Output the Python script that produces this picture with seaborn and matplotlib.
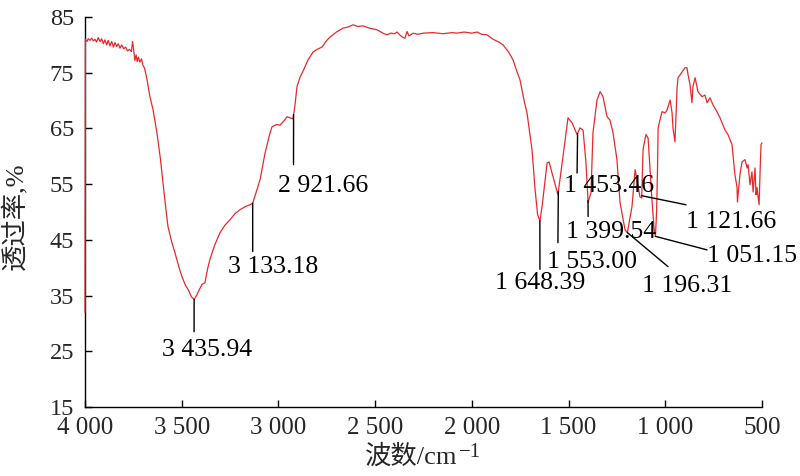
import numpy as np
import pandas as pd
import matplotlib
matplotlib.use('Agg')
import matplotlib.pyplot as plt
import seaborn as sns

# FTIR spectrum
wavenumber = [4000, 3998, 3990, 3983, 3975, 3965, 3957, 3948, 3940, 3932,
              3922, 3914, 3905, 3897, 3888, 3880, 3871, 3862, 3853, 3845,
              3836, 3828, 3819, 3810, 3800, 3790, 3780, 3770, 3760, 3754,
              3748, 3742, 3736, 3730, 3724, 3716, 3708, 3700, 3692, 3680,
              3665, 3648, 3628, 3610, 3597, 3580, 3571, 3553, 3535, 3515,
              3499, 3480, 3467, 3450, 3436, 3425, 3410, 3395, 3380, 3365,
              3354, 3330, 3302, 3275, 3250, 3225, 3199, 3170, 3147, 3133,
              3120, 3095, 3069, 3045, 3033, 3010, 2992, 2970, 2956, 2940,
              2925, 2915, 2904, 2888, 2870, 2847, 2821, 2800, 2775, 2750,
              2733, 2700, 2666, 2640, 2614, 2590, 2563, 2530, 2490, 2460,
              2439, 2420, 2400, 2387, 2370, 2355, 2346, 2335, 2325, 2304,
              2280, 2250, 2201, 2150, 2100, 2077, 2040, 2000, 1973, 1950,
              1922, 1890, 1860, 1839, 1810, 1787, 1770, 1751, 1730, 1715,
              1700, 1689, 1673, 1660, 1648, 1637, 1611, 1601, 1580, 1555,
              1529, 1503, 1482, 1456, 1441, 1425, 1410, 1399, 1384, 1374,
              1353, 1337, 1322, 1301, 1286, 1270, 1250, 1234, 1208, 1196,
              1172, 1156, 1146, 1131, 1122, 1115, 1100, 1089, 1069, 1058,
              1051, 1045, 1040, 1037, 1017, 1001, 991, 975, 965, 960,
              950, 939, 934, 914, 898, 888, 882, 872, 862, 857,
              846, 831, 810, 795, 784, 769, 753, 733, 717, 691,
              676, 655, 650, 640, 629, 627, 614, 603, 588, 577,
              572, 562, 552, 546, 536, 531, 526, 515, 510, 505,
              500]
transmittance = [32.0, 81.0, 80.6, 81.1, 80.8, 81.2, 80.7, 81.0, 80.5, 81.3,
                 80.6, 81.1, 80.2, 80.9, 80.0, 80.8, 79.8, 80.6, 79.6, 80.4,
                 79.7, 80.2, 79.4, 80.0, 79.3, 79.6, 78.9, 79.2, 78.8, 80.6,
                 79.0, 77.2, 78.2, 77.0, 77.8, 76.9, 77.5, 76.3, 75.8, 73.9,
                 70.8, 68.3, 64.2, 59.5, 55.3, 50.0, 47.4, 44.8, 42.7, 40.2,
                 38.4, 36.8, 36.1, 34.8, 34.3, 34.9, 36.0, 37.0, 37.3, 40.0,
                 41.5, 44.0, 46.3, 47.7, 48.6, 49.7, 50.4, 51.0, 51.3, 51.6,
                 53.0, 55.8, 60.6, 64.0, 65.3, 65.7, 65.6, 66.4, 67.1, 66.9,
                 66.7, 69.0, 72.5, 74.2, 75.5, 77.3, 78.7, 79.2, 79.6, 80.8,
                 81.4, 82.3, 83.0, 83.2, 83.6, 83.3, 83.4, 83.0, 82.7, 82.1,
                 81.8, 82.1, 82.0, 82.3, 81.7, 81.3, 81.2, 82.4, 81.6, 82.1,
                 81.9, 82.1, 82.2, 82.0, 82.2, 82.1, 82.3, 82.1, 82.3, 81.9,
                 81.8, 81.0, 80.5, 80.0, 78.7, 77.3, 75.5, 73.7, 70.0, 67.8,
                 64.0, 61.2, 54.0, 49.5, 48.4, 51.0, 58.8, 59.0, 56.3, 53.1,
                 59.9, 66.9, 66.0, 63.9, 65.1, 64.7, 58.8, 51.7, 53.5, 64.2,
                 70.1, 71.6, 70.7, 67.1, 66.5, 64.2, 59.4, 51.7, 46.8, 46.3,
                 51.0, 57.6, 55.8, 52.7, 52.5, 61.2, 63.9, 63.3, 52.2, 47.0,
                 45.6, 50.0, 58.0, 65.1, 68.0, 67.8, 68.3, 70.1, 67.8, 65.0,
                 62.6, 72.3, 74.1, 75.1, 75.9, 75.9, 74.6, 72.8, 69.6, 72.5,
                 74.1, 71.6, 70.7, 71.0, 69.6, 70.5, 69.2, 68.0, 66.9, 64.7,
                 63.9, 62.1, 60.3, 56.7, 54.4, 51.8, 56.7, 59.0, 59.4, 57.9,
                 58.5, 54.9, 57.2, 53.6, 57.9, 53.1, 54.4, 51.3, 57.2, 62.1,
                 62.4]

# marked bands
peak_wn = [3435.94, 3133.18, 2921.66, 1648.39, 1553.00,
           1453.46, 1399.54, 1196.31, 1121.66, 1051.15]

# label placement: text anchor (centre, baseline) and end of the leader line
label_x = [3369, 3025, 2770, 1648, 1379, 1291, 1281, 888, 660, 552]
label_y = [24.1, 39.1, 53.6, 36.1, 40.0, 53.5, 45.4, 35.7, 47.2, 41.1]
leader_x = [3436, 3133, 2922, 1648, 1555, 1456, 1399, 986, 893, 784]
leader_y = [28.5, 42.9, 58.5, 39.7, 44.5, 57.0, 49.2, 40.2, 51.3, 43.2]

xticks = [4000, 3500, 3000, 2500, 2000, 1500, 1000, 500]
yticks = [15, 25, 35, 45, 55, 65, 75, 85]


def fmt(v, nd=2):
    return f"{v:,.{nd}f}".replace(',', ' ')


sns.set_style('ticks')
plt.rcParams['font.family'] = ['Liberation Serif', 'Noto Sans CJK SC', 'DejaVu Serif']

df = pd.DataFrame({'wn': wavenumber, 'T': transmittance})

fig = plt.figure(figsize=(8, 4.76), dpi=100)
ax = fig.add_axes([85 / 800, 69 / 476, 677 / 800, 390 / 476])

sns.lineplot(data=df, x='wn', y='T', sort=False, estimator=None,
             color='#e8292b', linewidth=0.9, ax=ax, zorder=3, clip_on=False)

# leader lines start on the curve at each band
wn_asc = np.array(wavenumber[1:][::-1], dtype=float)
t_asc = np.array(transmittance[1:][::-1], dtype=float)
for i, p in enumerate(peak_wn):
    y0 = np.interp(p, wn_asc, t_asc)
    ax.plot([p, leader_x[i]], [y0, leader_y[i]], color='black', lw=1.0, zorder=4)
    ax.text(label_x[i], label_y[i], fmt(p), ha='center', va='baseline',
            fontsize=18.5, color='black', zorder=5)

ax.set_xlim(4000, 500)
ax.set_ylim(15, 85)
ax.set_xticks(xticks)
ax.set_xticklabels([fmt(t, 0) for t in xticks], fontsize=18)
ax.set_yticks(yticks)
ax.set_yticklabels([str(t) for t in yticks], fontsize=17.5)
ax.tick_params(axis='both', direction='in', length=5, width=1, color='black')
ax.tick_params(axis='x', pad=7)
ax.tick_params(axis='y', pad=8)

sns.despine(ax=ax)
for s in ['left', 'bottom']:
    ax.spines[s].set_color('black')
    ax.spines[s].set_linewidth(1.0)

xl = ax.set_xlabel('波数/cm', fontsize=19)
ax.xaxis.set_label_coords(0.482, -0.097)
ax.annotate('\u22121', xy=(1.0, 1.0), xycoords=xl, xytext=(1, 1),
            textcoords='offset points', ha='left', va='top', fontsize=15)
ax.set_ylabel('透过率,%', fontsize=19)
ax.yaxis.set_label_coords(-0.085, 0.49)

fig.savefig('out.png', dpi=100)
